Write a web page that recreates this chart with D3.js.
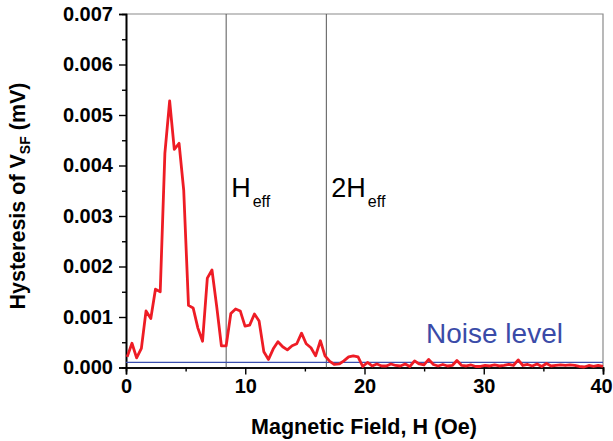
<!DOCTYPE html>
<html>
<head>
<meta charset="utf-8">
<script src="https://cdn.jsdelivr.net/npm/d3@7"></script>
<style>
  body { margin: 0; background: #fff; }
  text { font-family: "Liberation Sans", Arial, sans-serif; }
</style>
</head>
<body>
<svg id="chart" width="613" height="441"></svg>
<script>
// field values (Oe)
var field = [0.10, 0.50, 0.89, 1.29, 1.68, 2.08, 2.47, 2.87, 3.26, 3.66,
  4.05, 4.45, 4.84, 5.24, 5.63, 6.03, 6.42, 6.82, 7.21, 7.61,
  8.00, 8.40, 8.79, 9.19, 9.58, 9.98, 10.37, 10.77, 11.16, 11.56,
  11.95, 12.35, 12.74, 13.14, 13.53, 13.93, 14.32, 14.72, 15.11, 15.51,
  15.90, 16.30, 16.69, 17.09, 17.48, 17.88, 18.27, 18.67, 19.06, 19.46,
  19.85, 20.25, 20.64, 21.04, 21.43, 21.83, 22.22, 22.62, 23.01, 23.41,
  23.80, 24.20, 24.59, 24.99, 25.38, 25.78, 26.17, 26.57, 26.96, 27.36,
  27.75, 28.15, 28.54, 28.94, 29.33, 29.73, 30.12, 30.52, 30.91, 31.31,
  31.70, 32.10, 32.49, 32.89, 33.28, 33.68, 34.07, 34.47, 34.86, 35.26,
  35.65, 36.05, 36.44, 36.84, 37.23, 37.63, 38.02, 38.42, 38.81, 39.21,
  39.60, 40.00];

// hysteresis of V_SF (mV)
var hysteresis = [0.00021, 0.00048, 0.00019, 0.00038, 0.00112, 0.00097, 0.00155, 0.00150, 0.00424, 0.00528,
  0.00432, 0.00444, 0.00351, 0.00123, 0.00118, 0.00078, 0.00052, 0.00177, 0.00193, 0.00120,
  0.00043, 0.00043, 0.00107, 0.00116, 0.00112, 0.00082, 0.00084, 0.00106, 0.00092, 0.00031,
  0.00016, 0.00037, 0.00051, 0.00041, 0.00035, 0.00043, 0.00047, 0.00068, 0.00047, 0.00039,
  0.00023, 0.00053, 0.00023, 0.00012, 0.00006, 0.00007, 0.00013, 0.00021, 0.00023, 0.00021,
  0.00002, 0.00010, 0.00003, 0.00007, 0.00003, 0.00003, 0.00007, 0.00004, 0.00003, 0.00007,
  0.00002, 0.00013, 0.00007, 0.00005, 0.00016, 0.00006, 0.00003, 0.00006, 0.00003, 0.00004,
  0.00014, 0.00004, 0.00003, 0.00005, 0.00002, 0.00002, 0.00004, 0.00003, 0.00005, 0.00003,
  0.00004, 0.00006, 0.00004, 0.00015, 0.00004, 0.00006, 0.00003, 0.00007, 0.00002, 0.00008,
  0.00003, 0.00004, 0.00005, 0.00004, 0.00005, 0.00004, 0.00002, 0.00001, 0.00004, 0.00002,
  0.00004, 0.00002];

var xTicks = [0, 10, 20, 30, 40];
var yTicks = [0, 0.001, 0.002, 0.003, 0.004, 0.005, 0.006, 0.007];
var xMinor = [5, 15, 25, 35];
var yMinor = [0.0005, 0.0015, 0.0025, 0.0035, 0.0045, 0.0055, 0.0065];
var noiseLevel = 0.0001;
var hEff = 8.4;
var markers = [{h: hEff, label: 'H'}, {h: 2 * hEff, label: '2H'}];

var plotLeft = 126, plotRight = 603, plotTop = 14, plotBottom = 367.5;

var svg = d3.select('#chart');

var x = d3.scaleLinear().domain([0, 40]).range([plotLeft, plotRight]);
var y = d3.scaleLinear().domain([0, 0.007]).range([plotBottom, plotTop]);

// frame top / right
svg.append('path')
  .attr('d', 'M' + plotLeft + ',' + plotTop + 'H' + plotRight + 'V' + plotBottom)
  .attr('fill', 'none')
  .attr('stroke', '#8a8a8a')
  .attr('stroke-width', 1.2);

// minor ticks
var xAxisMinor = d3.axisBottom(x).tickValues(xMinor).tickSize(4).tickFormat('');
var yAxisMinor = d3.axisLeft(y).tickValues(yMinor).tickSize(4).tickFormat('');

svg.append('g').attr('transform', 'translate(0,' + plotBottom + ')').call(xAxisMinor);
svg.append('g').attr('transform', 'translate(' + plotLeft + ',0)').call(yAxisMinor);

var xAxis = d3.axisBottom(x).tickValues(xTicks).tickSize(7).tickPadding(4).tickFormat(d3.format('d'));
var yAxis = d3.axisLeft(y).tickValues(yTicks).tickSize(7).tickPadding(6).tickFormat(d3.format('.3f'));

svg.append('g').attr('class', 'axis x').attr('transform', 'translate(0,' + plotBottom + ')').call(xAxis);
svg.append('g').attr('class', 'axis').attr('transform', 'translate(' + plotLeft + ',0)').call(yAxis);

svg.selectAll('.domain').attr('stroke', '#000').attr('stroke-width', 1.6);
svg.selectAll('.tick line').attr('stroke', '#000').attr('stroke-width', 1.4);
svg.selectAll('.axis .tick text')
  .attr('font-family', '"Liberation Sans", Arial, sans-serif')
  .attr('font-size', 20)
  .attr('font-weight', 'bold')
  .attr('fill', '#000');
// last x label sits against the right edge
svg.selectAll('.axis.x .tick text')
  .filter(function (d) { return d === 40; })
  .attr('dx', -2);

// H_eff markers
svg.selectAll('.marker')
  .data(markers)
  .enter()
  .append('line')
  .attr('class', 'marker')
  .attr('x1', function (d) { return x(d.h); })
  .attr('x2', function (d) { return x(d.h); })
  .attr('y1', plotTop)
  .attr('y2', plotBottom)
  .attr('stroke', '#555')
  .attr('stroke-width', 1);

var labels = svg.selectAll('.mlabel')
  .data(markers)
  .enter()
  .append('text')
  .attr('class', 'mlabel')
  .attr('x', function (d) { return x(d.h) + 5; })
  .attr('y', 197)
  .attr('font-size', 27)
  .attr('fill', '#000');
labels.append('tspan').text(function (d) { return d.label; });
labels.append('tspan').attr('font-size', 16).attr('dy', 10).attr('dx', 2).text('eff');

// noise level
svg.append('line')
  .attr('x1', plotLeft)
  .attr('x2', plotRight)
  .attr('y1', y(noiseLevel))
  .attr('y2', y(noiseLevel))
  .attr('stroke', '#3a4fb0')
  .attr('stroke-width', 1.3);

svg.append('text')
  .attr('x', 426)
  .attr('y', 343)
  .attr('font-size', 28)
  .attr('fill', '#3a4ba8')
  .text('Noise level');

// data line
var line = d3.line()
  .x(function (d, i) { return x(field[i]); })
  .y(function (d) { return y(d); });

svg.append('path')
  .datum(hysteresis)
  .attr('d', line)
  .attr('fill', 'none')
  .attr('stroke', '#ee1c25')
  .attr('stroke-width', 2.8)
  .attr('stroke-linejoin', 'round');

// axis titles
svg.append('text')
  .attr('x', 364)
  .attr('y', 434)
  .attr('text-anchor', 'middle')
  .attr('font-size', 21.5)
  .attr('font-weight', 'bold')
  .text('Magnetic Field, H (Oe)');

var yt = svg.append('text')
  .attr('transform', 'translate(25,196) rotate(-90)')
  .attr('text-anchor', 'middle')
  .attr('font-size', 21.5)
  .attr('font-weight', 'bold');
yt.append('tspan').text('Hysteresis of V');
yt.append('tspan').attr('font-size', 14).attr('dy', 5).text('SF');
yt.append('tspan').attr('dy', -5).text(' (mV)');
</script>
</body>
</html>
